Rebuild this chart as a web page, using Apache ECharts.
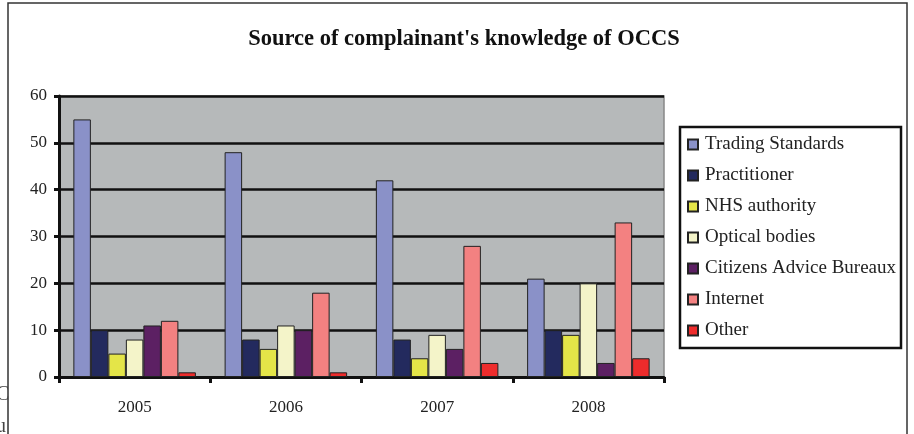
<!DOCTYPE html>
<html><head><meta charset="utf-8">
<script src="https://cdn.jsdelivr.net/npm/echarts@6/dist/echarts.min.js"></script>
<style>html,body{margin:0;padding:0;background:#fff}#c{width:914px;height:434px}</style>
</head><body><div id="c"></div>
<script>
const categories = ['2005', '2006', '2007', '2008'];
const seriesNames = ['Trading Standards', 'Practitioner', 'NHS authority', 'Optical bodies', 'Citizens Advice Bureaux', 'Internet', 'Other'];
const tradingStandards = [55, 48, 42, 21];
const practitioner = [10, 8, 8, 10];
const nhsAuthority = [5, 6, 4, 9];
const opticalBodies = [8, 11, 9, 20];
const citizensAdvice = [11, 10, 6, 3];
const internet = [12, 18, 28, 33];
const other = [1, 1, 3, 4];
const yTicks = [0, 10, 20, 30, 40, 50, 60];
const colors = ['#8a91c8', '#232a5e', '#e4e548', '#f4f4c9', '#5c2063', '#f38181', '#ee2c2c'];
const values = [tradingStandards, practitioner, nhsAuthority, opticalBodies, citizensAdvice, internet, other];

const font = 'Liberation Serif, Times New Roman, serif';
const chart = echarts.init(document.getElementById('c'));
chart.setOption({
  animation: false,
  title: {
    text: "Source of complainant's knowledge of OCCS",
    left: 459, top: 23, textAlign: 'center',
    textStyle: { fontFamily: font, fontWeight: 'bold', fontSize: 22.5, color: '#111' }
  },
  graphic: [
    { type: 'rect', shape: { x: 8, y: 3, width: 899, height: 440 }, style: { fill: 'none', stroke: '#333', lineWidth: 1.5 }, z: -1 },
    { type: 'text', left: -4, top: 385, style: { text: 'C', font: '20px ' + font, fill: '#444' } },
    { type: 'text', left: -4, top: 417, style: { text: 'u', font: '20px ' + font, fill: '#444' } }
  ],
  legend: {
    orient: 'vertical', left: 680, top: 127,
    padding: [8, 5, 8, 7],
    borderColor: '#111', borderWidth: 2.5,
    itemWidth: 10, itemHeight: 10, itemGap: 12,
    icon: 'rect',
    textStyle: { fontFamily: font, fontSize: 19, color: '#222', lineHeight: 19, padding: [0, 0, 0, 2] },
    data: seriesNames
  },
  grid: {
    left: 59, right: 250, top: 96, bottom: 57,
    show: true, backgroundColor: '#b6b9ba', borderColor: '#888', borderWidth: 1.5
  },
  xAxis: {
    type: 'category', data: categories,
    axisLine: { lineStyle: { color: '#111', width: 3 } },
    axisTick: { show: true, length: 6, lineStyle: { color: '#111', width: 3 } },
    axisLabel: { fontFamily: font, fontSize: 17, color: '#222', margin: 22 }
  },
  yAxis: {
    type: 'value', min: 0, max: 60, interval: 10,
    axisLine: { show: true, lineStyle: { color: '#111', width: 3 } },
    axisTick: { show: true, length: 5, lineStyle: { color: '#111', width: 3 } },
    axisLabel: { fontFamily: font, fontSize: 17, color: '#222', margin: 12,
      formatter: v => yTicks.includes(v) ? String(v) : '' },
    splitLine: { lineStyle: { color: '#111', width: 2.5 } }
  },
  series: seriesNames.map((n, i) => ({
    name: n, type: 'bar', data: values[i],
    barGap: '0%', barCategoryGap: '19%',
    itemStyle: { color: colors[i], borderColor: '#222', borderWidth: 1 }
  }))
});
</script></body></html>
